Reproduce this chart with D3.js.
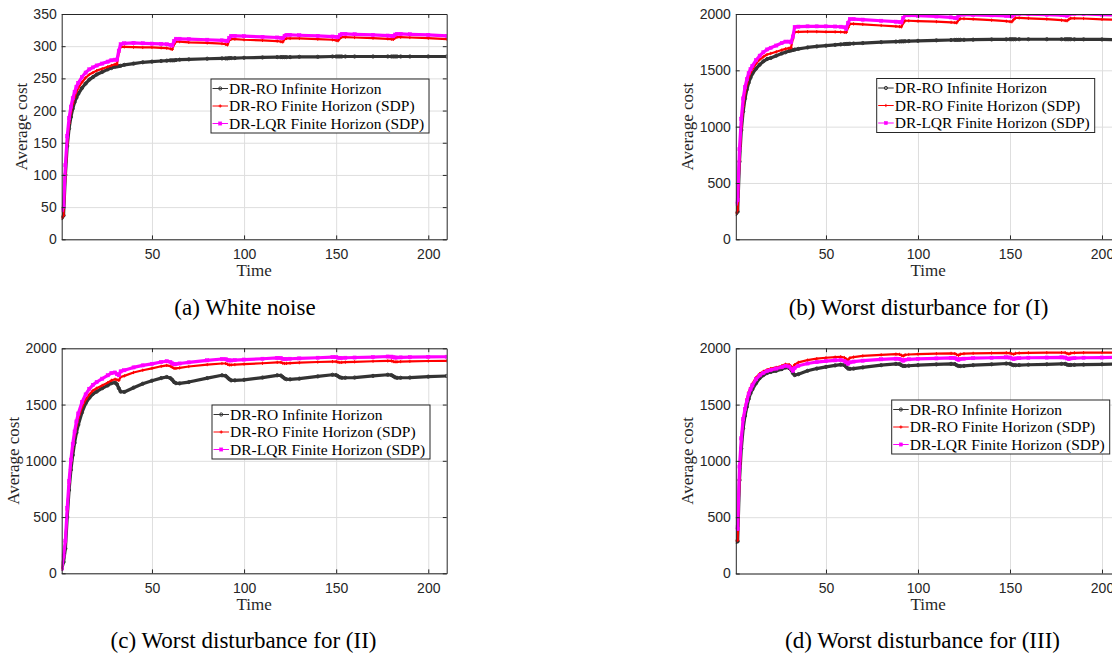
<!DOCTYPE html>
<html><head><meta charset="utf-8">
<script src="https://cdn.jsdelivr.net/npm/d3@7"></script>
<style>html,body{margin:0;padding:0;background:#fff;} svg{display:block;}</style>
</head><body><svg id="c" width="1112" height="653"></svg>
<script>
// ---- data ----
const time = [1,2,3,4,5,6,7,8,9,10,
  12,14,16,18,20,23,26,28,30,31,
  32,33,35,40,45,50,55,58,60,61,
  62,63,65,70,80,88,90,91,92,93,
  95,100,110,118,120,121,122,123,125,130,
  140,148,150,151,152,153,155,160,170,178,
  180,181,182,183,185,190,200,210];

const aInf = [33,37,100,145,172,190,203,213,220,226,
  235,242,248,252,256,260,264,266,268,268.5,
  269,269.5,271,273,275,276,277,277.5,278,278,
  278,278.5,279,279.5,280.5,281,281,281,281.5,281.5,
  281.5,282,282.5,283,283,283,283,283,283,283.5,
  283.5,284,284,284,284,284,284,284,284,284,
  284,284,284,284,284,284,284,284];
const aRO = [33,37,102,150,180,198,211,221,229,235,
  244,251,256,259,262,265,268,270,272,272,
  290,299,299,298.5,298,298,297.5,297,296,295,
  303,307,307,306,305,304,303,302,309,311,
  311,310,309,308,307,306.5,311,312,312,312,
  311,310,309,308.5,312,314,314,313.5,312.5,311.5,
  311,310.5,313,314,314,313.5,312.5,311];
const aLQR = [45,51,115,160,188,206,219,229,237,243,
  252,259,264,267,270,273,276,278,279,279,
  293,303,304.5,305,304.5,304,303.5,303,302,301,
  308,311.5,311.5,311,310,309,308.5,308,313,316,
  316,315.5,314.5,313.5,313,312.5,316,317.5,317.5,317,
  316,315,314.5,314,317,319,319,318.5,317.5,316.5,
  316,315.5,318,319,319,318.5,317.5,316];

const bInf = [225,245,690,970,1135,1250,1330,1390,1435,1470,
  1515,1550,1580,1600,1610,1630,1650,1660,1672,1676,
  1680,1684,1690,1703,1712,1719,1726,1730,1733,1734,
  1735,1736,1738,1742,1750,1755,1756,1757,1757,1758,
  1759,1762,1766,1769,1770,1770,1770,1771,1771,1772,
  1774,1775,1776,1776,1776,1776,1776,1776,1776,1776,
  1776,1776,1776,1776,1775,1775,1774,1772];
const bRO = [230,260,700,1000,1180,1300,1380,1440,1480,1510,
  1560,1595,1620,1640,1650,1665,1680,1690,1697,1700,
  1780,1840,1842,1843,1843,1842,1841,1840,1838,1836,
  1880,1912,1912,1908,1898,1890,1888,1886,1920,1940,
  1940,1937,1932,1926,1924,1922,1945,1958,1958,1955,
  1945,1936,1933,1931,1950,1965,1965,1962,1955,1945,
  1942,1940,1952,1962,1962,1960,1953,1947];
const bLQR = [315,350,800,1070,1250,1350,1420,1475,1510,1540,
  1590,1630,1660,1685,1700,1720,1742,1755,1755,1748,
  1800,1885,1888,1890,1890,1890,1889,1887,1882,1868,
  1920,1955,1955,1950,1940,1932,1929,1925,1965,1988,
  1988,1985,1978,1970,1965,1962,1985,1995,1995,1993,
  1988,1984,1982,1978,1992,2000,2000,1998,1994,1990,
  1988,1985,1995,2002,2002,2000,1995,1991];

const cInf = [40,100,220,500,740,920,1050,1160,1250,1320,
  1430,1510,1560,1595,1615,1645,1670,1690,1695,1680,
  1645,1615,1612,1650,1685,1712,1735,1745,1735,1720,
  1700,1690,1688,1700,1735,1760,1755,1740,1725,1715,
  1715,1720,1740,1760,1758,1745,1732,1725,1724,1730,
  1750,1765,1762,1752,1742,1738,1738,1740,1755,1765,
  1762,1752,1742,1738,1738,1740,1748,1754];
const cRO = [40,150,280,560,800,980,1120,1230,1310,1380,
  1480,1545,1590,1625,1645,1670,1695,1715,1725,1720,
  1715,1745,1755,1785,1805,1822,1840,1848,1842,1832,
  1822,1822,1826,1838,1855,1865,1865,1858,1852,1852,
  1855,1860,1867,1875,1875,1868,1865,1866,1868,1872,
  1878,1882,1882,1877,1874,1875,1877,1880,1885,1888,
  1888,1882,1880,1880,1882,1884,1887,1889];
const cLQR = [40,155,290,580,820,1010,1150,1260,1350,1420,
  1520,1590,1640,1675,1700,1730,1760,1780,1785,1770,
  1760,1795,1805,1830,1848,1862,1878,1885,1878,1866,
  1858,1860,1865,1875,1893,1905,1903,1896,1892,1892,
  1895,1900,1907,1915,1913,1906,1904,1905,1907,1910,
  1916,1922,1921,1916,1914,1914,1916,1918,1922,1927,
  1926,1920,1918,1918,1919,1921,1924,1925];

const dInf = [281,285,829,1110,1290,1400,1480,1550,1600,1635,
  1690,1735,1762,1780,1790,1800,1815,1830,1825,1810,
  1780,1762,1770,1800,1820,1835,1848,1855,1850,1835,
  1820,1818,1820,1830,1850,1862,1860,1850,1843,1843,
  1845,1850,1857,1862,1860,1850,1843,1842,1844,1850,
  1858,1865,1863,1855,1850,1850,1851,1854,1858,1862,
  1862,1855,1852,1852,1853,1855,1858,1860];
const dRO = [290,295,840,1200,1370,1470,1550,1610,1650,1685,
  1740,1775,1795,1810,1820,1830,1845,1858,1855,1840,
  1825,1855,1875,1895,1908,1916,1922,1925,1918,1905,
  1895,1915,1922,1932,1942,1948,1946,1938,1932,1942,
  1945,1948,1952,1955,1953,1945,1938,1948,1952,1955,
  1958,1960,1958,1952,1948,1955,1958,1960,1961,1962,
  1961,1955,1950,1957,1960,1961,1962,1962];
const dLQR = [410,395,950,1200,1370,1460,1535,1595,1635,1670,
  1725,1760,1782,1798,1808,1820,1832,1845,1838,1820,
  1800,1825,1845,1865,1878,1886,1893,1896,1888,1875,
  1862,1875,1882,1890,1902,1908,1906,1898,1890,1898,
  1902,1906,1910,1915,1913,1905,1898,1905,1908,1912,
  1916,1920,1918,1910,1905,1910,1913,1916,1918,1920,
  1918,1910,1905,1910,1913,1916,1918,1920];

const xTicks = [50,100,150,200];
const yTicksA = [0,50,100,150,200,250,300,350];
const yTicksB = [0,500,1000,1500,2000];
const seriesNames = ["DR-RO Infinite Horizon","DR-RO Finite Horizon (SDP)","DR-LQR Finite Horizon (SDP)"];
const captions = ["(a) White noise","(b) Worst disturbance for (I)","(c) Worst disturbance for (II)","(d) Worst disturbance for (III)"];
const xLabel = "Time", yLabel = "Average cost";

// ---- layout / style ----
const panels = [
  {series:[aInf,aRO,aLQR], yTicks:yTicksA, yMax:350, x0:61.7, x1:446.7, y0:14, y1:239.3, leg:[211,79], cap:[245,315], ylabX:20.7},
  {series:[bInf,bRO,bLQR], yTicks:yTicksB, yMax:2000, x0:735.8, x1:1120.4, y0:14, y1:239.3, leg:[876.7,78.5], cap:[918.5,315], ylabX:687.3},
  {series:[cInf,cRO,cLQR], yTicks:yTicksB, yMax:2000, x0:61.7, x1:446.7, y0:348.3, y1:573.3, leg:[212,405], cap:[243.5,648], ylabX:13.3},
  {series:[dInf,dRO,dLQR], yTicks:yTicksB, yMax:2000, x0:735.8, x1:1120.4, y0:348.3, y1:573.5, leg:[891.7,400], cap:[922.5,648], ylabX:687.3}
];
const colors = ["#333333","#ff0000","#ff00ff"];
const widths = [3.2,2.2,3.2];
const axisColor = "#262626", gridColor = "#dedede";
const tickFont = "'Liberation Sans', Arial, sans-serif";
const serif = "'Liberation Serif', 'Times New Roman', serif";
const tickLen = 3.9;
const fmt = d3.format("d");

const svg = d3.select("#c");
svg.append("rect").attr("width",1112).attr("height",653).attr("fill","#fff");

function drawMarker(sel, k, color) {
  if (k === 0) {
    sel.append("circle").attr("r",1.6).attr("fill","none").attr("stroke",color).attr("stroke-width",1);
  } else if (k === 1) {
    sel.append("path").attr("d","M-1.6,0H1.6M0,-1.6V1.6").attr("stroke",color).attr("stroke-width",1);
  } else {
    sel.append("rect").attr("x",-1.6).attr("y",-1.6).attr("width",3.2).attr("height",3.2)
      .attr("fill",color).attr("stroke",color).attr("stroke-width",0.5);
  }
}

panels.forEach((p, pi) => {
  const x = d3.scaleLinear().domain([1,210]).range([p.x0,p.x1]);
  const y = d3.scaleLinear().domain([0,p.yMax]).range([p.y1,p.y0]);
  const W = p.x1 - p.x0, H = p.y1 - p.y0;
  const g = svg.append("g");

  // grid
  const gx = g.append("g").attr("transform",`translate(0,${p.y1})`)
    .call(d3.axisBottom(x).tickValues(xTicks).tickSize(-H).tickFormat(""));
  const gy = g.append("g").attr("transform",`translate(${p.x0},0)`)
    .call(d3.axisLeft(y).tickValues(p.yTicks).tickSize(-W).tickFormat(""));
  [gx,gy].forEach(s => { s.select(".domain").remove(); s.selectAll("line").attr("stroke",gridColor).attr("stroke-width",1); });

  // clip
  const cid = "clip" + pi;
  g.append("clipPath").attr("id",cid).append("rect").attr("x",p.x0).attr("y",p.y0).attr("width",W).attr("height",H);
  const plot = g.append("g").attr("clip-path",`url(#${cid})`);

  const line = d3.line().x((d,i)=>x(time[i])).y(d=>y(d));
  p.series.forEach((vals, k) => {
    plot.append("path").datum(vals).attr("d",line).attr("fill","none")
      .attr("stroke",colors[k]).attr("stroke-width",widths[k]).attr("stroke-linejoin","round");
    const mk = plot.append("g").selectAll("g").data(vals).join("g")
      .attr("transform",(d,i)=>`translate(${x(time[i])},${y(d)})`);
    mk.each(function(){ drawMarker(d3.select(this), k, colors[k]); });
  });

  // axes (box with inward ticks)
  const axB = g.append("g").attr("transform",`translate(0,${p.y1})`)
    .call(d3.axisBottom(x).tickValues(xTicks).tickFormat(fmt).tickSizeInner(-tickLen).tickSizeOuter(0).tickPadding(10));
  const axT = g.append("g").attr("transform",`translate(0,${p.y0})`)
    .call(d3.axisTop(x).tickValues(xTicks).tickSizeInner(-tickLen).tickSizeOuter(0).tickFormat(""));
  const axL = g.append("g").attr("transform",`translate(${p.x0},0)`)
    .call(d3.axisLeft(y).tickValues(p.yTicks).tickFormat(fmt).tickSizeInner(-tickLen).tickSizeOuter(0).tickPadding(5));
  const axR = g.append("g").attr("transform",`translate(${p.x1},0)`)
    .call(d3.axisRight(y).tickValues(p.yTicks).tickSizeInner(-tickLen).tickSizeOuter(0).tickFormat(""));
  [axB,axT,axL,axR].forEach(s => {
    s.select(".domain").attr("stroke",axisColor).attr("stroke-width",1);
    s.selectAll("line").attr("stroke",axisColor).attr("stroke-width",1);
    s.selectAll("text").attr("fill",axisColor).style("font-family",tickFont).style("font-size","14px");
  });

  // axis labels
  g.append("text").attr("x",(p.x0+p.x1)/2).attr("y",p.y1+36.7).attr("text-anchor","middle")
    .attr("fill",axisColor).style("font-family",serif).style("font-size","17px").text(xLabel);
  g.append("text").attr("transform",`translate(${p.ylabX},${(p.y0+p.y1)/2}) rotate(-90)`)
    .attr("text-anchor","middle").attr("dy","0.35em")
    .attr("fill",axisColor).style("font-family",serif).style("font-size","17px").text(yLabel);

  // legend
  const lg = g.append("g").attr("transform",`translate(${p.leg[0]},${p.leg[1]})`);
  lg.append("rect").attr("width",218).attr("height",54).attr("fill","#fff")
    .attr("stroke",axisColor).attr("stroke-width",1);
  seriesNames.forEach((name,k) => {
    const cy = 9.5 + k*17.5;
    lg.append("line").attr("x1",1.5).attr("x2",17).attr("y1",cy).attr("y2",cy)
      .attr("stroke",colors[k]).attr("stroke-width",1);
    drawMarker(lg.append("g").attr("transform",`translate(9.2,${cy})`), k, colors[k]);
    lg.append("text").attr("x",18).attr("y",cy).attr("dy","0.35em").attr("fill","#000")
      .style("font-family",serif).style("font-size","15.5px").text(name);
  });

  // caption
  svg.append("text").attr("x",p.cap[0]).attr("y",p.cap[1]).attr("text-anchor","middle")
    .attr("fill","#000").style("font-family",serif).style("font-size","23px").text(captions[pi]);
});
</script></body></html>
